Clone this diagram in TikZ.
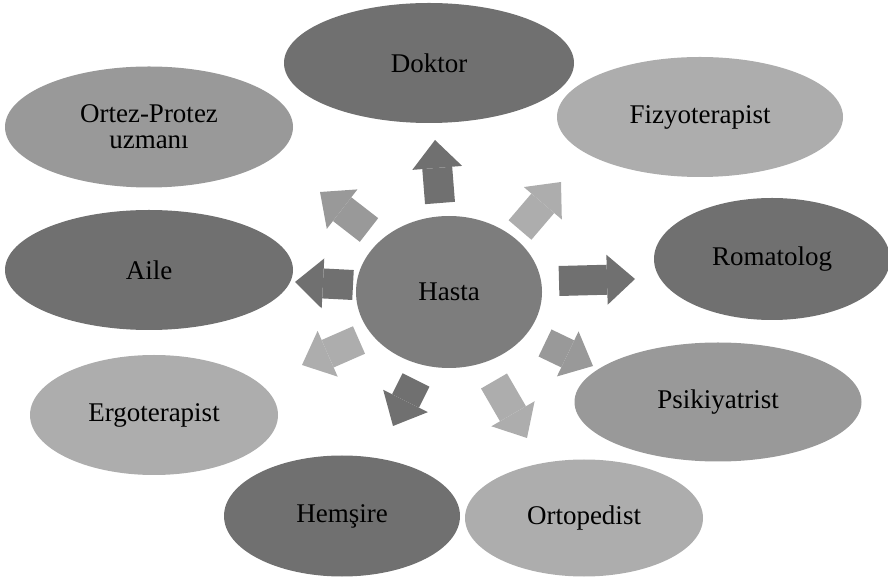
\documentclass[tikz,border=0pt]{standalone}
\usepackage{fontspec}
\setmainfont{Liberation Serif}
\usetikzlibrary{shapes.geometric,arrows.meta,calc}
\definecolor{darkg}{gray}{0.44}
\definecolor{hastag}{gray}{0.49}
\definecolor{midg}{gray}{0.60}
\definecolor{lightg}{gray}{0.68}

\begin{document}
\begin{tikzpicture}[x=1pt,y=1pt,
  role/.style={ellipse, draw=none, inner sep=0pt, minimum width=288pt, minimum height=120pt, align=center, font=\fontsize{27}{26}\selectfont},
  blk/.style={line width=30pt, -{Triangle[width=50pt,length=28pt,line width=0pt]}}]
\useasboundingbox (0,0) rectangle (888,578);

\node[role, fill=hastag, minimum width=186pt, minimum height=152pt] (hasta) at (449,286) {Hasta};

\node[role, fill=darkg, minimum width=290pt] (doktor) at (429,515) {Doktor};
\node[role, fill=lightg, minimum width=286pt] (fizyo) at (700,461) {Fizyoterapist};
\node[role, fill=darkg, minimum width=236pt, minimum height=122pt] (romatolog) at (772,319) {Romatolog};
\node[role, fill=midg, minimum width=287pt, minimum height=119pt] (psikiyatrist) at (718,176) {Psikiyatrist};
\node[role, fill=lightg, minimum width=238pt, minimum height=117pt] (ortopedist) at (584,60) {Ortopedist};
\node[role, fill=darkg, minimum width=236pt, minimum height=121pt] (hemsire) at (342,62) {Hemşire};
\node[role, fill=lightg, minimum width=248pt] (ergo) at (154,163) {Ergoterapist};
\node[role, fill=darkg] (aile) at (149,308) {Aile};
\node[role, fill=midg, minimum height=121pt] (ortez) at (149,451) {Ortez-Protez\\uzmanı};

% block arrows out of the centre
\foreach \sx/\sy/\dx/\dy/\col in {-9/89/-5/63/darkg, 71/62/41/48/lightg, 110/11/76/2/darkg,
    96/-51/48/-23/midg, 45/-89/33/-57/lightg, -33/-88/-23/-46/darkg,
    -90/-48/-57/-25/lightg, -96/7/-58/3/darkg, -80/62/-49/38/midg}
  \draw[blk, \col] ($(hasta)+(\sx,\sy)$) -- ++(\dx,\dy);
\end{tikzpicture}
\end{document}
